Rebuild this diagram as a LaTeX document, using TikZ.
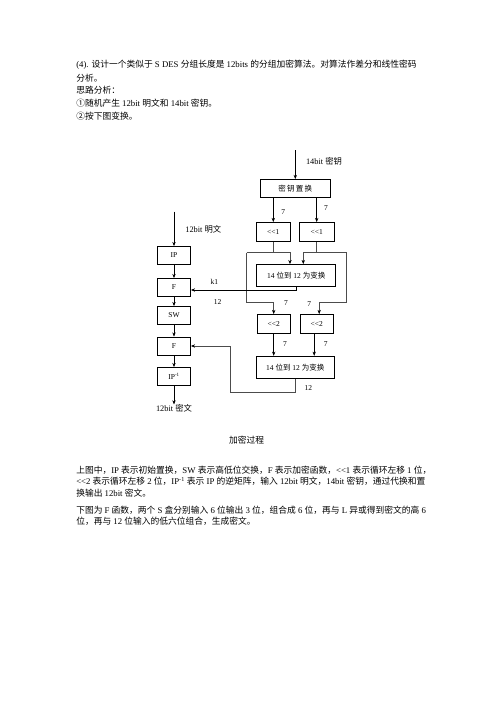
\documentclass[tikz,border=0pt]{standalone}
\usepackage{fontspec}
\setmainfont{Liberation Serif}
\newfontfamily\cjk{Noto Sans CJK SC}
\usetikzlibrary{positioning, arrows.meta}

\begin{document}
\begin{tikzpicture}[x=1.2pt, y=-1.2pt, >={Stealth[length=5pt, width=4pt, color=black]}, line width=0.6pt,
  blk/.style={draw, minimum width=40pt, minimum height=22pt, inner sep=1pt, font=\fontsize{9}{10}\selectfont},
  lbl/.style={inner sep=0pt, font=\fontsize{9}{10}\selectfont},
  txt/.style={anchor=west, inner sep=0pt, font=\fontsize{10.5}{12}\selectfont},
  loop/.style={draw=black!70}]
  \useasboundingbox (0,0) rectangle (496,702);
  % text above
  \node[txt] (t1) at (76,65) {(4). {\cjk 设计一个类似于} S DES {\cjk 分组长度是} 12bits {\cjk 的分组加密算法。对算法作差分和线性密码}};
  \node[txt] (t2) at (76,78) {\cjk 分析。};
  \node[txt] (t3) at (76,90.5) {\cjk 思路分析：};
  \node[txt] (t4) at (76,103) {{\cjk ①随机产生} 12bit {\cjk 明文和} 14bit {\cjk 密钥。}};
  \node[txt] (t5) at (76,116) {\cjk ②按下图变换。};
  % plaintext side
  \coordinate (pin) at (174,211.7);
  \node[blk] (IP) at (174,255.5) {IP};
  \node[blk] (F1) at (174,287.5) {F};
  \node[blk] (SW) at (174,315.5) {SW};
  \node[blk] (F2) at (174,346) {F};
  \node[blk] (IPinv) at (174,376.5) {IP\textsuperscript{-1}};
  \node[lbl, font=\fontsize{10}{11}\selectfont] (ptext) at (203.3,229.3) {12bit {\cjk 明文}};
  \node[lbl, font=\fontsize{10}{11}\selectfont] (ctext) at (174,408.5) {12bit {\cjk 密文}};
  \draw[->] (pin) -- (IP);
  \draw[->] (IP) -- (F1);
  \draw[->] (F1) -- (SW);
  \draw[->] (SW) -- (F2);
  \draw[->] (F2) -- (IPinv);
  \draw[->] (IPinv) -- (ctext);
  % key side
  \coordinate (kin) at (295.3,150);
  \node[lbl, font=\fontsize{10}{11}\selectfont] (ktext) at (324,161) {14bit {\cjk 密钥}};
  \node[blk, minimum width=85pt, minimum height=21.6pt] (kperm) at (295.3,188.3) {\cjk 密\,钥\,置\,换};
  \node[blk, minimum width=41.6pt, minimum height=23.3pt] (sla) at (273.3,232) {<{}<1};
  \node[blk, minimum width=41.6pt, minimum height=23.3pt] (slb) at (316.7,232) {<{}<1};
  \node[blk, minimum width=94.8pt, minimum height=26pt] (trA) at (296.2,275.2) {14 {\cjk 位到} 12 {\cjk 为变换}};
  \node[blk, minimum width=39.2pt, minimum height=22.8pt] (slc) at (273.7,323.8) {<{}<2};
  \node[blk, minimum width=39.2pt, minimum height=22.8pt] (sld) at (316.7,323.8) {<{}<2};
  \node[blk, minimum width=92.8pt, minimum height=26.8pt] (trB) at (295.3,367.2) {14 {\cjk 位到} 12 {\cjk 为变换}};
  \draw[->] (kin) -- (kperm);
  \draw[->] (kperm.south -| sla) -- (sla);
  \draw[->] (kperm.south -| slb) -- (slb);
  % the two loops
  \coordinate (la) at (246.7,252.5);
  \coordinate (lb) at (246.7,302.5);
  \coordinate (ra) at (346.5,252.5);
  \coordinate (rb) at (346.5,302);
  \draw[loop] (sla) -- (sla |- la);
  \draw[loop] (slb) -- (slb |- ra);
  \draw[loop, ->] (la) -| ([xshift=-7.5pt]trA.north);
  \draw[loop, ->] (ra) -| ([xshift=8.5pt]trA.north);
  \draw[loop, ->] (la) -- (lb) -| (slc);
  \draw[loop, ->] (ra) -- (rb) -| ([xshift=3pt]sld.north);
  \draw[->] (slc) -- (slc |- trB.north);
  \draw[->] ([xshift=-3pt]sld.south) -- ([xshift=-3pt]sld.south |- trB.north);
  % round keys into F
  \coordinate (fb) at (230,392.7);
  \draw[->] (trA) |- ([yshift=-3pt]F1.east);
  \draw[loop, ->] (trB) |- (fb) |- (F2.east);
  % bit widths
  \node[lbl] (w1) at (283.3,212.5) {7};
  \node[lbl] (w2) at (326,208) {7};
  \node[lbl] (w3) at (286,303.5) {7};
  \node[lbl] (w4) at (309.3,304) {7};
  \node[lbl] (w5) at (285,344) {7};
  \node[lbl] (w6) at (325.7,344) {7};
  \node[lbl] (k1) at (214.3,282.3) {k1};
  \node[lbl] (w7) at (217.7,301.7) {12};
  \node[lbl] (w8) at (308.3,388.3) {12};
  % text below
  \node[txt, anchor=center] (cap) at (246.5,440) {\cjk 加密过程};
  \node[txt] (b1) at (76,470) {{\cjk 上图中，}IP {\cjk 表示初始置换，}SW {\cjk 表示高低位交换，}F {\cjk 表示加密函数，}<{}<1 {\cjk 表示循环左移} 1 {\cjk 位，}};
  \node[txt] (b2) at (76,481.5) {<{}<2 {\cjk 表示循环左移} 2 {\cjk 位，}IP\textsuperscript{-1} {\cjk 表示} IP {\cjk 的逆矩阵，输入} 12bit {\cjk 明文，}14bit {\cjk 密钥，通过代换和置}};
  \node[txt] (b3) at (76,493) {{\cjk 换输出} 12bit {\cjk 密文。}};
  \node[txt] (b4) at (76,510) {{\cjk 下图为} F {\cjk 函数，两个} S {\cjk 盒分别输入} 6 {\cjk 位输出} 3 {\cjk 位，组合成} 6 {\cjk 位，再与} L {\cjk 异或得到密文的高} 6};
  \node[txt] (b5) at (76,521.5) {{\cjk 位，再与} 12 {\cjk 位输入的低六位组合，生成密文。}};
\end{tikzpicture}
\end{document}
